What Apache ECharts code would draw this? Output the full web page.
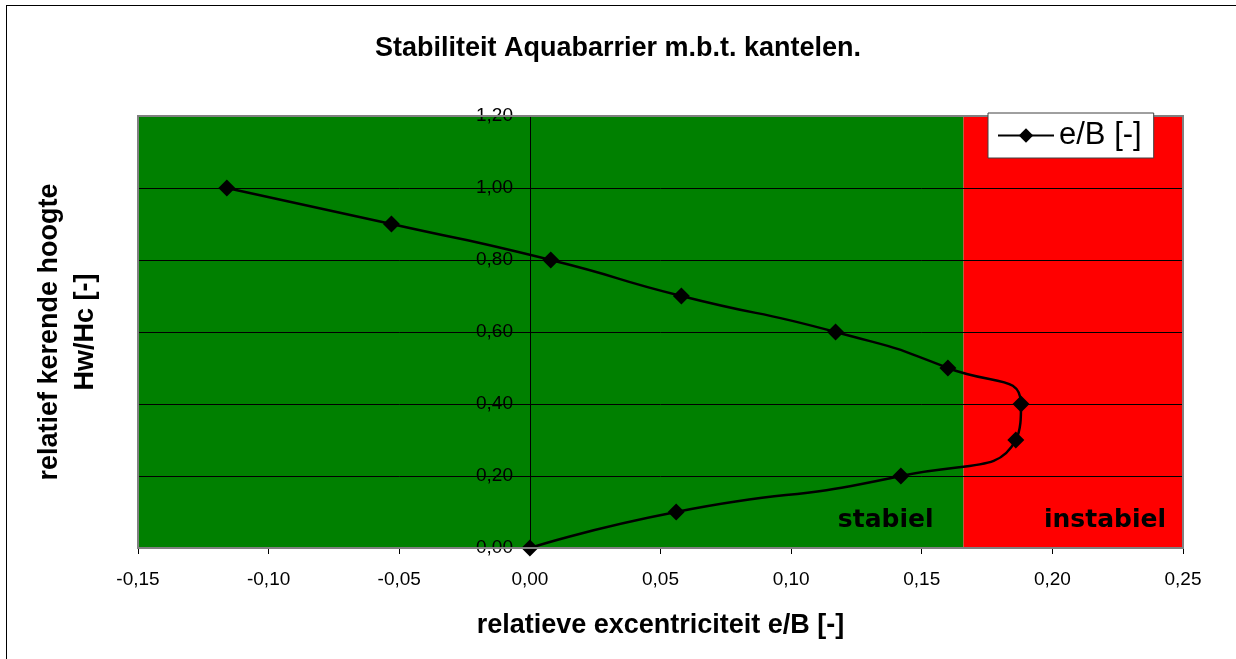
<!DOCTYPE html>
<html>
<head>
<meta charset="utf-8">
<script src="https://cdn.jsdelivr.net/npm/echarts@6/dist/echarts.min.js"></script>
<style>
  html, body { margin: 0; padding: 0; background: #fff; }
  #chart { width: 1236px; height: 659px; }
  .frame { position: absolute; left: 6px; top: 5px; width: 1240px; height: 670px; border: 1px solid #000; pointer-events: none; }
</style>
</head>
<body>
<div id="chart"></div>
<div class="frame"></div>
<script>
  // gemeten waarden uit de grafiek
  var hoogte = [1.0, 0.9, 0.8, 0.7, 0.6, 0.5, 0.4, 0.3, 0.2, 0.1, 0.0];
  var excentriciteit = [-0.116, -0.053, 0.008, 0.058, 0.117, 0.160, 0.188, 0.186, 0.142, 0.056, 0.0];
  var grensStabiel = 0.166;
  var xMin = -0.15, xMax = 0.25, xStap = 0.05;
  var yMin = 0, yMax = 1.2, yStap = 0.2;

  var punten = [];
  for (var i = 0; i < hoogte.length; i++) {
    punten.push([excentriciteit[i], hoogte[i]]);
  }

  function komma(v) {
    return v.toFixed(2).replace('.', ',');
  }

  var font = 'Liberation Sans, Arial, sans-serif';
  var myChart = echarts.init(document.getElementById('chart'));
  var option = {
    animation: false,
    textStyle: { fontFamily: font },
    title: {
      text: 'Stabiliteit Aquabarrier m.b.t. kantelen.',
      left: 'center',
      top: 30,
      textStyle: { fontSize: 27, fontWeight: 'bold', color: '#000', fontFamily: font }
    },
    legend: {
      data: ['e/B [-]'],
      left: 988,
      top: 113,
      padding: [7, 12, 7, 9],
      itemWidth: 56,
      itemHeight: 18,
      itemGap: 6,
      backgroundColor: '#fff',
      borderColor: '#404040',
      borderWidth: 1,
      z: 20,
      textStyle: { fontSize: 31, color: '#000', fontFamily: font }
    },
    grid: {
      show: true,
      z: 10,
      left: 138,
      right: 53,
      top: 116,
      bottom: 111,
      backgroundColor: 'transparent',
      borderColor: '#808080',
      borderWidth: 2
    },
    xAxis: {
      type: 'value',
      min: xMin,
      max: xMax,
      interval: xStap,
      z: 3,
      name: 'relatieve excentriciteit e/B [-]',
      nameLocation: 'middle',
      nameGap: 64,
      nameTextStyle: { fontSize: 27, fontWeight: 'bold', color: '#000', fontFamily: font },
      axisLine: { onZero: false, lineStyle: { color: '#808080', width: 2 } },
      axisTick: { show: true, length: 6, lineStyle: { color: '#000' } },
      axisLabel: { color: '#000', fontSize: 19, margin: 22, formatter: komma },
      splitLine: { show: false }
    },
    yAxis: [
      {
        type: 'value',
        min: yMin,
        max: yMax,
        interval: yStap,
        z: 3,
        // as ligt op e/B = 0
        offset: -392,
        axisLine: { show: true, onZero: false, lineStyle: { color: '#000', width: 1 } },
        axisTick: { show: true, length: 6, lineStyle: { color: '#000' } },
        axisLabel: { color: '#000', fontSize: 19, margin: 17, formatter: komma },
        splitLine: { show: true, lineStyle: { color: '#000', width: 1 } }
      },
      {
        type: 'value',
        min: yMin,
        max: yMax,
        position: 'left',
        offset: 0,
        name: 'relatief kerende hoogte\nHw/Hc [-]',
        nameLocation: 'middle',
        nameGap: 34,
        nameTextStyle: { fontSize: 27, fontWeight: 'bold', color: '#000', lineHeight: 36, fontFamily: font },
        axisLine: { show: false, onZero: false },
        axisTick: { show: false },
        axisLabel: { show: false },
        splitLine: { show: false }
      }
    ],
    series: [
      {
        name: 'e/B [-]',
        type: 'line',
        data: punten,
        smooth: 0.6,
        symbol: 'diamond',
        symbolSize: 17,
        z: 5,
        itemStyle: { color: '#000' },
        lineStyle: { color: '#000', width: 2.5 },
        markArea: {
          silent: true,
          z: 1,
          label: {
            show: true,
            position: 'insideBottomRight',
            color: '#000',
            fontSize: 25,
            fontWeight: 'bold',
            fontFamily: 'DejaVu Sans, Verdana, sans-serif'
          },
          data: [
            [
              { name: 'stabiel', xAxis: xMin, yAxis: yMin, itemStyle: { color: '#008000', opacity: 1 },
                label: { offset: [-25, -10] } },
              { xAxis: grensStabiel, yAxis: yMax }
            ],
            [
              { name: 'instabiel', xAxis: grensStabiel, yAxis: yMin, itemStyle: { color: '#ff0000', opacity: 1 },
                label: { offset: [-12, -10] } },
              { xAxis: xMax, yAxis: yMax }
            ]
          ]
        }
      }
    ]
  };
  myChart.setOption(option);
</script>
</body>
</html>
